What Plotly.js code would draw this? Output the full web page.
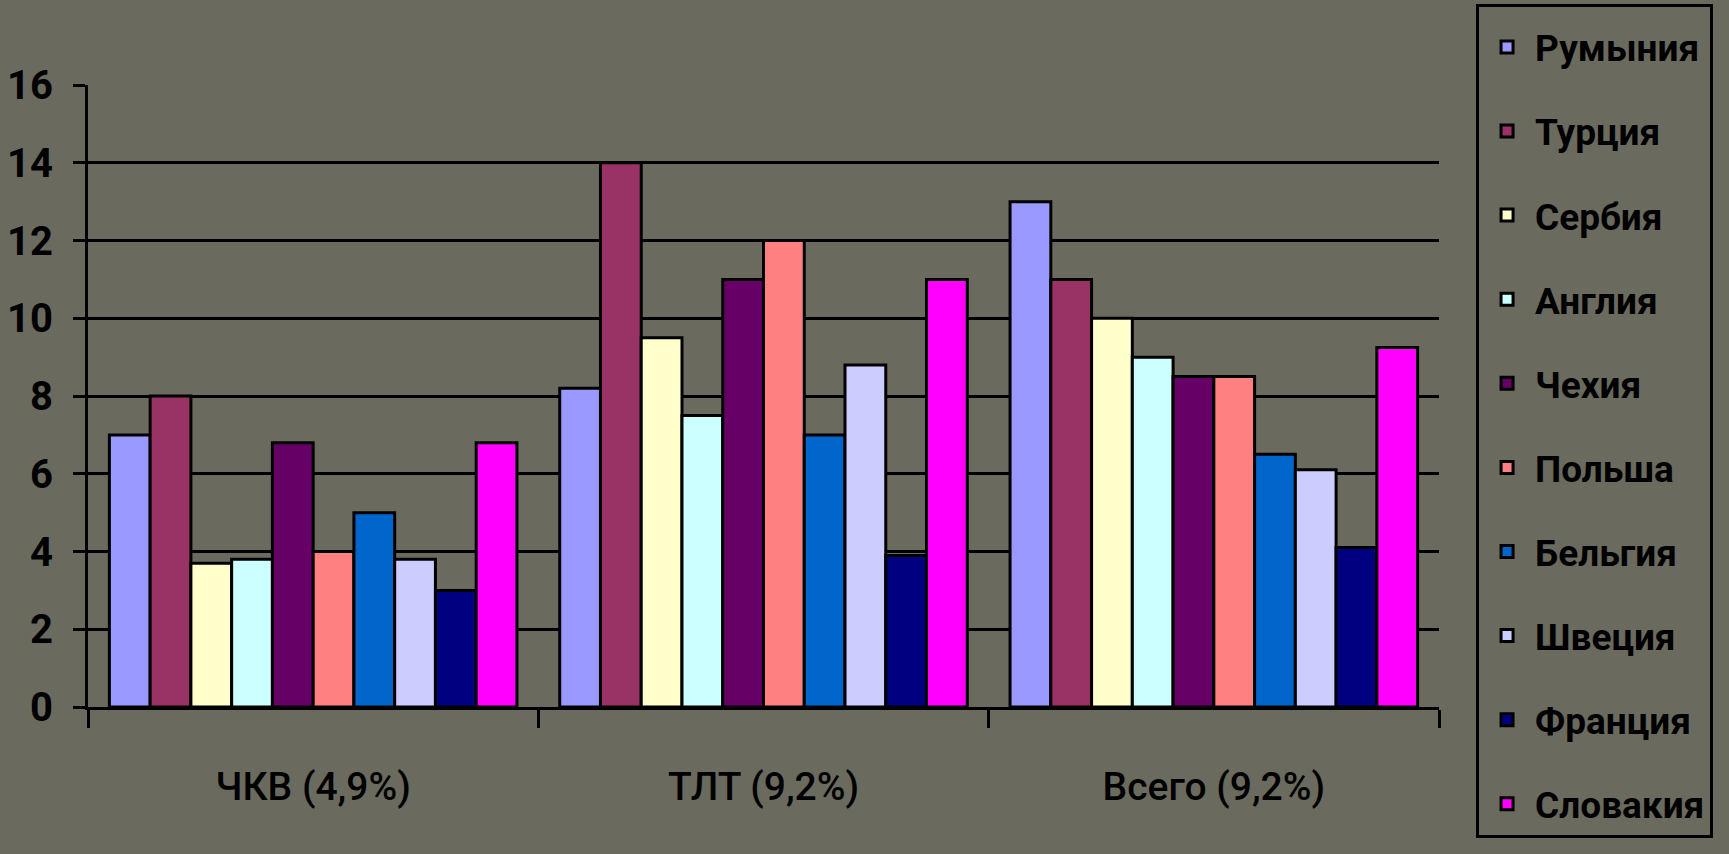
<!DOCTYPE html>
<html>
<head>
<meta charset="utf-8">
<script src="https://cdn.plot.ly/plotly-3.0.1.min.js"></script>
<style>
  html, body { margin: 0; padding: 0; background: #6a6b5e; }
  #chart { width: 1729px; height: 854px; }
</style>
</head>
<body>
<div id="chart"></div>
<script>
const categories = ["ЧКВ (4,9%)", "ТЛТ (9,2%)", "Всего (9,2%)"];
const countries = ["Румыния", "Турция", "Сербия", "Англия", "Чехия", "Польша", "Бельгия", "Швеция", "Франция", "Словакия"];
const romania  = [7.0, 8.2, 13.0];
const turkey   = [8.0, 14.0, 11.0];
const serbia   = [3.7, 9.5, 10.0];
const england  = [3.8, 7.5, 9.0];
const czechia  = [6.8, 11.0, 8.5];
const poland   = [4.0, 12.0, 8.5];
const belgium  = [5.0, 7.0, 6.5];
const sweden   = [3.8, 8.8, 6.1];
const france   = [3.0, 3.9, 4.1];
const slovakia = [6.8, 11.0, 9.25];
const seriesValues = [romania, turkey, serbia, england, czechia, poland, belgium, sweden, france, slovakia];
const colors = ["#9999FF", "#993366", "#FFFFCC", "#CCFFFF", "#660066", "#FF8080", "#0066CC", "#CCCCFF", "#000080", "#FF00FF"];
const yTicks = [0, 2, 4, 6, 8, 10, 12, 14, 16];

const fam = 'Roboto, "Liberation Sans", sans-serif';

const traces = countries.map((name, i) => ({
  type: "bar",
  name: name,
  x: categories,
  y: seriesValues[i],
  legendgroup: "g" + i,
  marker: { color: colors[i], line: { color: "#000000", width: 3 } },
  hoverinfo: "skip"
}));

const layout = {
  width: 1729,
  height: 854,
  paper_bgcolor: "#6a6b5e",
  plot_bgcolor: "#6a6b5e",
  margin: { l: 88, r: 290, t: 85, b: 147 },
  barmode: "group",
  bargap: 0.095,
  bargroupgap: 0,
  showlegend: true,
  legend: {
    xref: "container", yref: "container",
    x: 0.8537, xanchor: "left",
    y: 0.995, yanchor: "top",
    maxheight: 854,
    bgcolor: "#6a6b5e",
    bordercolor: "#000000",
    borderwidth: 3,
    traceorder: "grouped",
    tracegroupgap: 33,
    itemwidth: 46,
    title: { text: " ", font: { family: fam, size: 7 } },
    font: { family: fam, size: 37, color: "#000000", weight: "bold" }
  },
  xaxis: {
    type: "category",
    showline: true,
    linecolor: "#000000",
    linewidth: 3,
    ticks: "outside",
    tickson: "boundaries",
    ticklen: 18,
    tickwidth: 3,
    tickcolor: "#000000",
    ticklabelstandoff: 43,
    showgrid: false,
    zeroline: false,
    tickfont: { family: fam, size: 39, color: "#000000", weight: 500 }
  },
  yaxis: {
    range: [0, 16],
    tickvals: yTicks,
    ticktext: yTicks.map(String),
    showline: true,
    linecolor: "#000000",
    linewidth: 3,
    ticks: "outside",
    ticklen: 12,
    tickwidth: 3,
    tickcolor: "#000000",
    ticklabelstandoff: 12,
    showgrid: true,
    gridcolor: "#000000",
    gridwidth: 3,
    zeroline: false,
    tickfont: { family: fam, size: 40, color: "#000000", weight: "bold" }
  }
};

Plotly.newPlot("chart", traces, layout, { displayModeBar: false, staticPlot: true });
</script>
</body>
</html>
